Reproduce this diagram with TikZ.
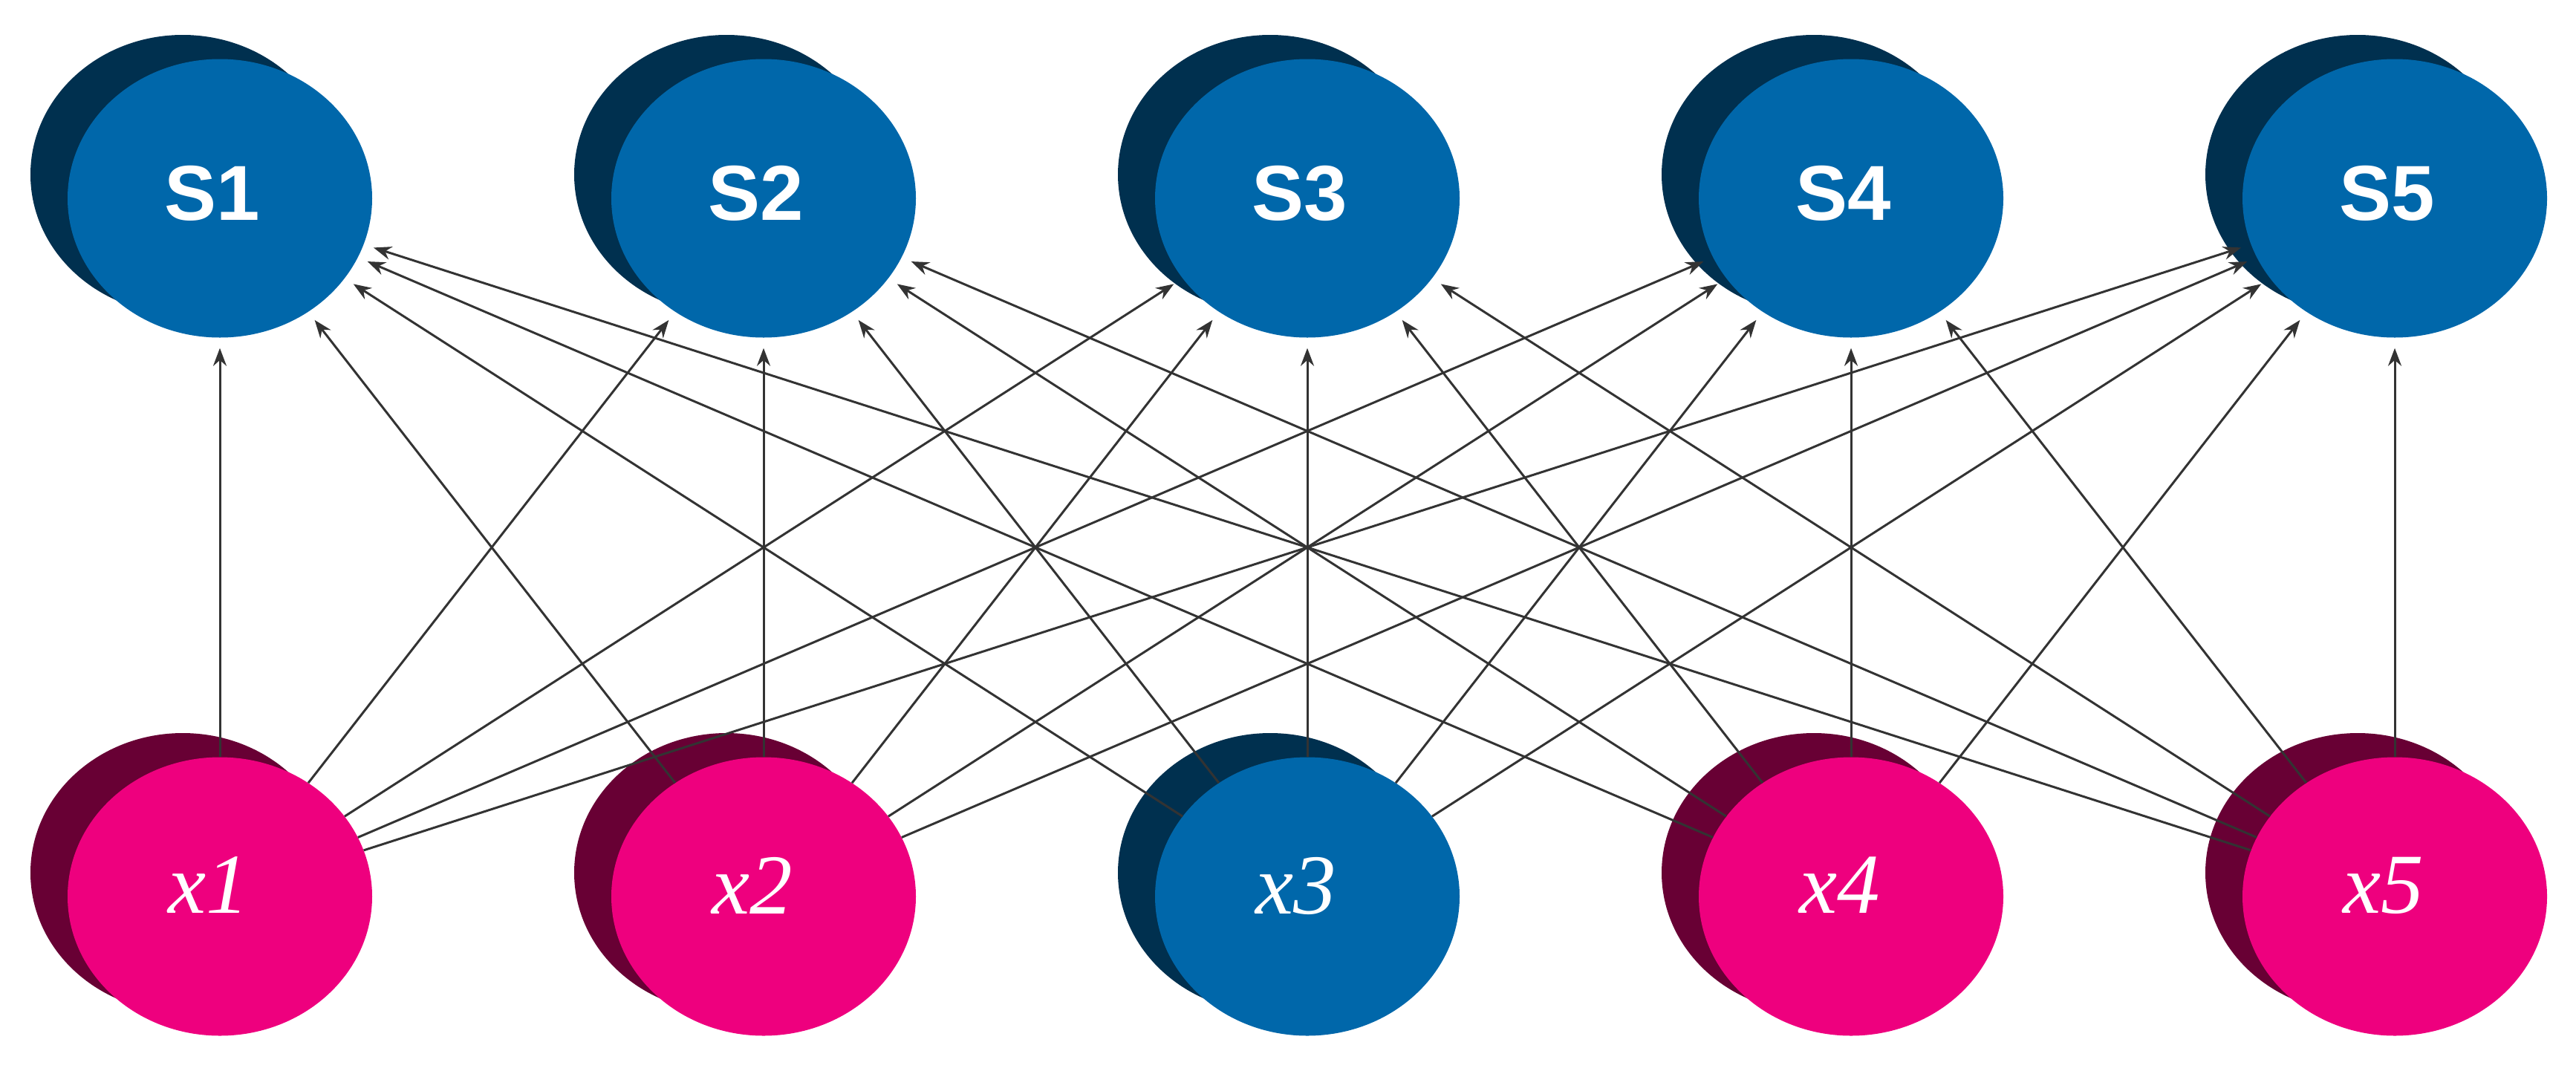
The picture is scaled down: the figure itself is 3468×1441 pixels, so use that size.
\documentclass[tikz,border=0pt]{standalone}
\usepackage{fontspec}
\setmainfont{Liberation Serif}
\newfontfamily\lsans{Liberation Sans}
\usetikzlibrary{shapes.geometric,arrows.meta}
\definecolor{bfront}{HTML}{0067AA}
\definecolor{bback}{HTML}{00304F}
\definecolor{pfront}{HTML}{EE007E}
\definecolor{pback}{HTML}{680034}
\begin{document}
\begin{tikzpicture}[x=1pt,y=-1pt,
  face/.style={ellipse,minimum width=410pt,minimum height=375pt,inner sep=0pt,text=white},
  snode/.style={face,fill=bfront,font=\lsans\bfseries\fontsize{105}{105}\selectfont},
  xnode/.style={face,font=\itshape\fontsize{115}{115}\selectfont},
  edge/.style={draw=black!80,line width=3pt,shorten >=14pt,-{Stealth[length=24pt,width=18pt]}}]
\useasboundingbox (0,0) rectangle (3468,1441);
\foreach \i in {1,...,5}{
  \pgfmathsetmacro\cx{296+732*(\i-1)}
  \fill[bback] (\cx-50,235) ellipse [x radius=205,y radius=188];
  \node[snode] (S\i) at (\cx,267) {\raisebox{15pt}{\hspace*{-20pt}S\i}};
}
\foreach \i/\fc/\bc in {1/pfront/pback,2/pfront/pback,3/bfront/bback,4/pfront/pback,5/pfront/pback}{
  \pgfmathsetmacro\cx{296+732*(\i-1)}
  \fill[\bc] (\cx-50,1175) ellipse [x radius=205,y radius=188];
  \node[xnode,fill=\fc] (x\i) at (\cx,1207) {\raisebox{30pt}{\hspace*{-30pt}x\i}};
}
\foreach \i in {1,...,5}{
  \foreach \j in {1,...,5}{
    \draw[edge] (x\i) -- (S\j);
  }
}
\end{tikzpicture}
\end{document}
